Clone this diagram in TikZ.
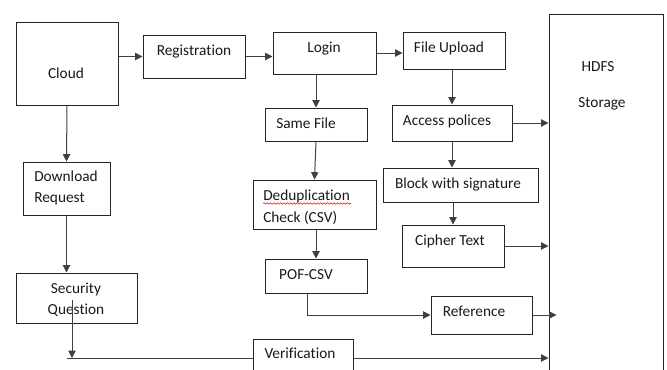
\documentclass[tikz,border=0pt]{standalone}
\usepackage{fontspec}
\setmainfont{Carlito}[Ligatures=NoCommon]
\usetikzlibrary{arrows.meta,fit,decorations.pathmorphing}
\begin{document}
\begin{tikzpicture}[x=0.75pt,y=-0.75pt,
  box/.style={draw=black!85, line width=0.75pt, inner sep=0pt},
  lbl/.style={anchor=base, inner sep=0pt, font=\fontsize{11.5}{14}\selectfont, text=black!90},
  conn/.style={draw=black!75, line width=0.75pt, -{Triangle[length=5.5pt,width=5.5pt]}},
  plainline/.style={draw=black!75, line width=0.75pt}]
\useasboundingbox (0,0) rectangle (667,369);
% boxes
\node[box, fit={(16,22)(118,105)}] (cloud) {};
\node[box, fit={(143,35)(245,78)}] (reg) {};
\node[box, fit={(273,32)(376,74)}] (login) {};
\node[box, fit={(403,32)(505,69)}] (fu) {};
\node[box, fit={(549,14)(663,390)}] (hdfs) {};
\node[box, fit={(392,105)(512,141)}] (acc) {};
\node[box, fit={(383,168)(538,202)}] (blk) {};
\node[box, fit={(402,225)(504,267)}] (cip) {};
\node[box, fit={(431,296)(532,334)}] (ref) {};
\node[box, fit={(253,339)(353,377)}] (ver) {};
\node[box, fit={(265,108)(367,141)}] (sf) {};
\node[box, fit={(253,180)(376,229)}] (dd) {};
\node[box, fit={(265,259)(367,293)}] (pof) {};
\node[box, fit={(23,162)(110,215)}] (dl) {};
\node[box, fit={(16,273)(137,323)}] (sq) {};
% labels
\node[lbl] at (66,78) {Cloud};
\node[lbl] at (194,55) {Registration};
\node[lbl] at (324,52) {Login};
\node[lbl] at (449,52) {File Upload};
\node[lbl] at (598,71) {HDFS};
\node[lbl] at (602,107) {Storage};
\node[lbl] at (306,128) {Same File};
\node[lbl] at (447,125) {Access polices};
\node[lbl] at (458,188) {Block with signature};
\node[lbl] at (450,245) {Cipher Text};
\node[lbl] at (306,279) {POF-CSV};
\node[lbl] at (474,316) {Reference};
\node[lbl] at (300,358) {Verification};
\node[lbl, anchor=base west] at (34,181) {Download};
\node[lbl, anchor=base west] at (34,202) {Request};
\node[lbl] at (76,293) {Security};
\node[lbl] at (76,314) {Question};
\node[lbl, anchor=base west] at (263,200) {Deduplication};
\node[lbl, anchor=base west] at (263,222) {Check (CSV)};
\draw[red, line width=0.4pt, decorate, decoration={snake, amplitude=0.6pt, segment length=2.5pt}] (263,203.5) -- (351,203.5);
% connectors
\draw[conn] (cloud.east |- reg.west) -- (reg.west);
\draw[conn] (reg.east) -- (login.west |- reg.east);
\draw[conn] (login.east) -- (fu.west |- login.east);
\draw[conn] (acc.north |- fu.south) -- (acc.north);
\draw[conn] (acc.east) -- (hdfs.west |- acc.east);
\draw[conn] (acc.south) -- (acc.south |- blk.north);
\draw[conn] (cip.north |- blk.south) -- (cip.north);
\draw[conn] (cip.east) -- (hdfs.west |- cip.east);
\draw[conn] (ref.east) -- ([xshift=6pt]hdfs.west |- ref.east);
\draw[conn] ([xshift=-6.75pt]pof.south) |- (ref.west);
\draw[conn] (ver.east) -- (hdfs.west |- ver.east);
\draw[conn] (cloud.south) -- (dl.north);
\draw[conn] (dl.south) -- (dl.south |- sq.north);
\coordinate (sqin) at (72,300);
\coordinate (vleft) at (67,358);
\draw[plainline] (ver.west) -- (vleft |- ver.west);
\draw[conn] (sqin) -- (sqin |- ver.west);
\draw[conn] (sf.north |- login.south) -- (sf.north);
\draw[conn] (sf.south) -- (dd.north);
\draw[conn] (pof.north |- dd.south) -- (pof.north);
\end{tikzpicture}
\end{document}
